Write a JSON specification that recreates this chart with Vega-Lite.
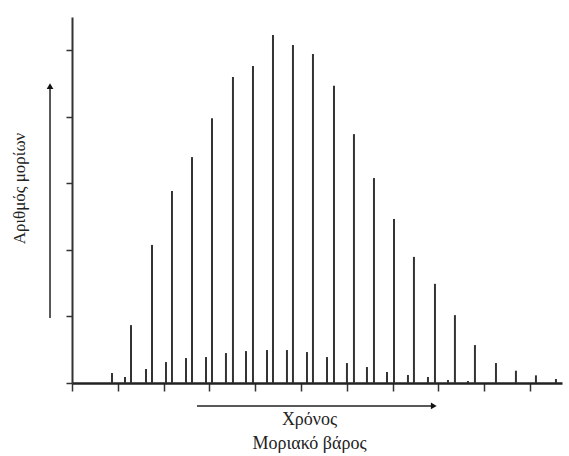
{
  "$schema": "https://vega.github.io/schema/vega-lite/v6.json",
  "width": 490,
  "height": 366,
  "autosize": {"type": "none"},
  "padding": {"left": 72, "top": 17, "right": 7, "bottom": 73},
  "background": "white",
  "config": {"view": {"stroke": null}},
  "datasets": {
    "peaks": [
      {"x": 0.873, "h": 0.30}, {"x": 1.157, "h": 0.18}, {"x": 1.288, "h": 1.74},
      {"x": 1.616, "h": 0.42}, {"x": 1.747, "h": 4.15}, {"x": 2.052, "h": 0.63},
      {"x": 2.183, "h": 5.77}, {"x": 2.489, "h": 0.75}, {"x": 2.620, "h": 6.79},
      {"x": 2.926, "h": 0.78}, {"x": 3.057, "h": 7.96}, {"x": 3.362, "h": 0.90},
      {"x": 3.515, "h": 9.20}, {"x": 3.799, "h": 0.96}, {"x": 3.952, "h": 9.53},
      {"x": 4.258, "h": 0.99}, {"x": 4.389, "h": 10.46}, {"x": 4.694, "h": 0.99},
      {"x": 4.825, "h": 10.16}, {"x": 5.131, "h": 0.93}, {"x": 5.262, "h": 9.89},
      {"x": 5.568, "h": 0.78}, {"x": 5.721, "h": 8.93}, {"x": 6.004, "h": 0.60},
      {"x": 6.157, "h": 7.48}, {"x": 6.441, "h": 0.48}, {"x": 6.594, "h": 6.16},
      {"x": 6.878, "h": 0.33}, {"x": 7.031, "h": 4.93}, {"x": 7.336, "h": 0.24},
      {"x": 7.467, "h": 3.79}, {"x": 7.773, "h": 0.18}, {"x": 7.926, "h": 2.98},
      {"x": 8.210, "h": 0.09}, {"x": 8.362, "h": 2.04}, {"x": 8.646, "h": 0.06},
      {"x": 8.799, "h": 1.14}, {"x": 9.258, "h": 0.60}, {"x": 9.694, "h": 0.37},
      {"x": 10.131, "h": 0.23}, {"x": 10.568, "h": 0.12}
    ],
    "arrows": [
      {"x": 2.73, "x2": 7.88, "y": -0.69, "y2": -0.69},
      {"x": -0.48, "x2": -0.48, "y": 1.95, "y2": 8.85}
    ],
    "heads": [
      {"x": 7.9, "y": -0.69, "dir": "right"},
      {"x": -0.48, "y": 8.92, "dir": "up"}
    ]
  },
  "layer": [
    {
      "data": {"name": "peaks"},
      "mark": {"type": "rule", "color": "#333333", "strokeWidth": 2},
      "encoding": {
        "x": {
          "field": "x", "type": "quantitative",
          "scale": {"domain": [0, 10.7], "nice": false, "zero": false},
          "axis": {
            "values": [0, 1, 2, 3, 4, 5, 6, 7, 8, 9, 10],
            "labels": false, "grid": false,
            "tickSize": 8, "tickColor": "#333333", "tickWidth": 1.5,
            "domainColor": "#222222", "domainWidth": 2.5,
            "title": ["Χρόνος", "Μοριακό βάρος"],
            "titleFont": "Liberation Serif", "titleFontSize": 18,
            "titleFontWeight": "normal", "titleColor": "#222222",
            "titleX": 237, "titleY": 27, "titleBaseline": "top",
            "titleAlign": "center", "titleLineHeight": 24
          }
        },
        "y": {
          "field": "h", "type": "quantitative",
          "scale": {"domain": [0, 11], "nice": false},
          "axis": {
            "values": [0, 1, 2, 3, 4, 5, 6, 7, 8, 9, 10, 11],
            "labels": false, "grid": false,
            "tickSize": 6, "tickColor": "#333333", "tickWidth": 1.5,
            "domainColor": "#333333", "domainWidth": 2,
            "title": "Αριθμός μορίων",
            "titleFont": "Liberation Serif", "titleFontSize": 17,
            "titleFontWeight": "normal", "titleColor": "#222222",
            "titleAngle": -90, "titleX": -44, "titleY": 171,
            "titleBaseline": "bottom", "titleAlign": "center"
          }
        },
        "y2": {"datum": 0}
      }
    },
    {
      "data": {"name": "arrows"},
      "mark": {"type": "rule", "color": "#222222", "strokeWidth": 1.5},
      "encoding": {
        "x": {"field": "x", "type": "quantitative"},
        "x2": {"field": "x2"},
        "y": {"field": "y", "type": "quantitative"},
        "y2": {"field": "y2"}
      }
    },
    {
      "data": {"name": "heads"},
      "mark": {"type": "point", "filled": true, "color": "#111111", "size": 45, "opacity": 1},
      "encoding": {
        "x": {"field": "x", "type": "quantitative"},
        "y": {"field": "y", "type": "quantitative"},
        "shape": {
          "field": "dir", "type": "nominal",
          "scale": {"domain": ["right", "up"], "range": ["triangle-right", "triangle-up"]},
          "legend": null
        }
      }
    }
  ]
}
